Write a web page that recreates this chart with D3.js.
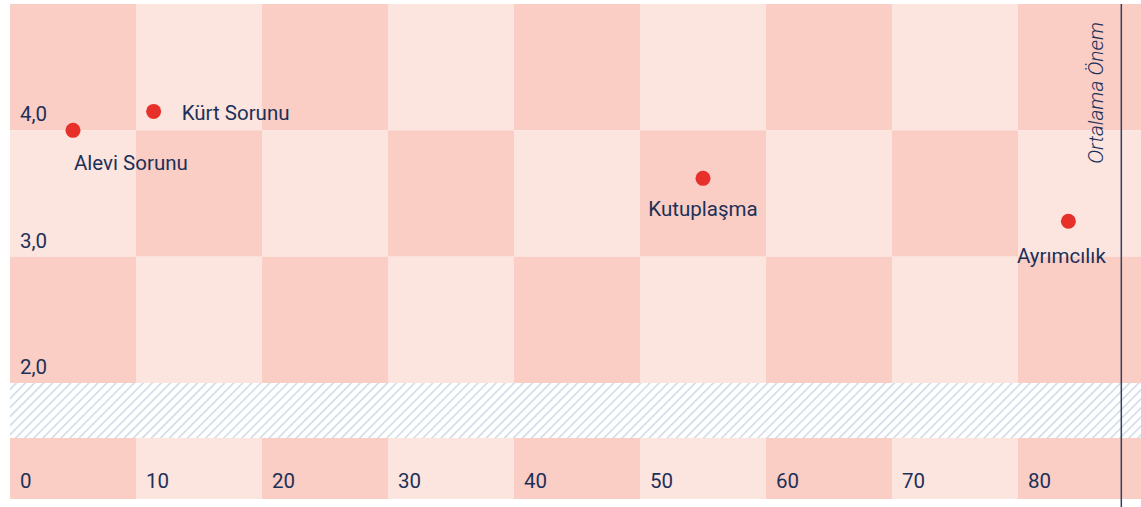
<!DOCTYPE html>
<html lang="tr">
<head>
  <meta charset="utf-8">
  <title>Önem ve yaygınlık</title>
  <script src="https://d3js.org/d3.v7.min.js"></script>
  <style>
    body { margin: 0; background: #fff; }
    text { font-family: Roboto, "Noto Sans", sans-serif; fill: #1c3158; }
  </style>
</head>
<body>
<script>
// data
var issues = ["Alevi Sorunu", "Kürt Sorunu", "Kutuplaşma", "Ayrımcılık"];
var xValues = [5.0, 11.4, 55.0, 84.0];
var yValues = [4.0, 4.15, 3.62, 3.28];
var xTicks = [0, 10, 20, 30, 40, 50, 60, 70, 80];
var yTicks = [2, 3, 4];
var averageX = 88.2;
var averageLabel = "Ortalama Önem";

var W = 1141, H = 507;
var dark = "#facdc5", light = "#fce4df";
var fs = 20.5;

var x = d3.scaleLinear().domain([0, 90]).range([10, 1144]);
var y = d3.scaleLinear().domain([2, 5]).range([383, 4]);
var bandTop = 438, bandBottom = 499;

var svg = d3.select("body").append("svg")
  .attr("width", W).attr("height", H);

// hatch pattern for the axis break
var defs = svg.append("defs");
var pat = defs.append("pattern")
  .attr("id", "hatch")
  .attr("patternUnits", "userSpaceOnUse")
  .attr("width", 6.4).attr("height", 10)
  .attr("patternTransform", "rotate(45)");
pat.append("rect").attr("width", 6.4).attr("height", 10).attr("fill", "#fff");
pat.append("line")
  .attr("x1", 0.8).attr("y1", 0).attr("x2", 0.8).attr("y2", 10)
  .attr("stroke", "#c8d7e6").attr("stroke-width", 1.4);

var clip = defs.append("clipPath").attr("id", "plot");
clip.append("rect").attr("x", 10).attr("y", 0).attr("width", W - 10).attr("height", H);

var g = svg.append("g").attr("clip-path", "url(#plot)");

// checkerboard cells
var cols = d3.range(0, 90, 10);
var rows = [4, 3, 2];
var cells = [];
rows.forEach(function(r, ri) {
  cols.forEach(function(c, ci) { cells.push({ c: c, r: r, dark: (ri + ci) % 2 === 0 }); });
});
g.selectAll("rect.cell").data(cells).enter().append("rect")
  .attr("class", "cell")
  .attr("x", function(d) { return x(d.c); })
  .attr("y", function(d) { return y(d.r + 1); })
  .attr("width", function(d) { return x(d.c + 10) - x(d.c); })
  .attr("height", function(d) { return y(d.r) - y(d.r + 1); })
  .attr("fill", function(d) { return d.dark ? dark : light; });

// axis break
g.append("rect")
  .attr("x", 10).attr("y", y(2))
  .attr("width", W).attr("height", bandTop - y(2))
  .attr("fill", "url(#hatch)");

// bottom band with x labels
g.selectAll("rect.band").data(cols).enter().append("rect")
  .attr("class", "band")
  .attr("x", function(d) { return x(d); })
  .attr("y", bandTop)
  .attr("width", function(d) { return x(d + 10) - x(d); })
  .attr("height", bandBottom - bandTop)
  .attr("fill", function(d, i) { return i % 2 === 0 ? dark : light; });

svg.selectAll("text.xt").data(xTicks).enter().append("text")
  .attr("class", "xt")
  .attr("x", function(d) { return x(d) + 10; })
  .attr("y", 488)
  .attr("font-size", fs)
  .text(function(d) { return d; });

svg.selectAll("text.yt").data(yTicks).enter().append("text")
  .attr("class", "yt")
  .attr("x", 20)
  .attr("y", function(d) { return y(d) - 9; })
  .attr("font-size", fs)
  .text(function(d) { return d3.format(".1f")(d).replace(".", ","); });

// average line
svg.append("line")
  .attr("x1", x(averageX)).attr("x2", x(averageX))
  .attr("y1", 4).attr("y2", H)
  .attr("stroke", "#33415e").attr("stroke-width", 1.5);

svg.append("text")
  .attr("transform", "translate(" + (x(averageX) - 18) + ",22) rotate(-90)")
  .attr("text-anchor", "end")
  .attr("font-size", 21)
  .attr("font-style", "italic")
  .attr("font-weight", 300)
  .text(averageLabel);

// points
var pts = issues.map(function(n, i) { return { name: n, x: xValues[i], y: yValues[i] }; });
// label placement: [dx, dy, anchor]
var place = {
  "Alevi Sorunu": [1, 40, "start"],
  "Kürt Sorunu": [28, 9, "start"],
  "Kutuplaşma": [0, 38, "middle"],
  "Ayrımcılık": [-7, 42, "middle"]
};

var node = svg.selectAll("g.pt").data(pts).enter().append("g")
  .attr("class", "pt")
  .attr("transform", function(d) { return "translate(" + x(d.x) + "," + y(d.y) + ")"; });

node.append("circle").attr("r", 7.5).attr("fill", "#e8302a");

node.append("text")
  .attr("x", function(d) { return place[d.name][0]; })
  .attr("y", function(d) { return place[d.name][1]; })
  .attr("text-anchor", function(d) { return place[d.name][2]; })
  .attr("font-size", fs)
  .text(function(d) { return d.name; });
</script>
</body>
</html>
